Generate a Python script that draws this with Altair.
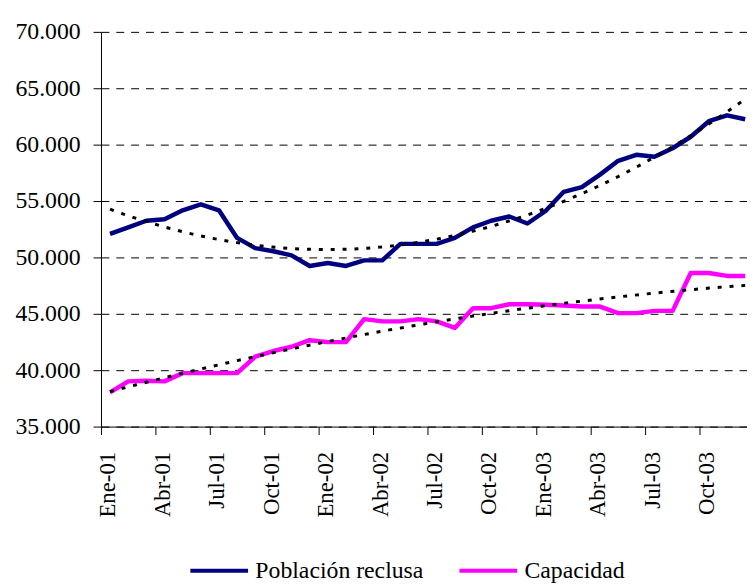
import json
import altair as alt
import pandas as pd

# Monthly categories (Ene-01 .. Dic-03)
meses = [
    "Ene-01", "Feb-01", "Mar-01", "Abr-01", "May-01", "Jun-01",
    "Jul-01", "Ago-01", "Sep-01", "Oct-01", "Nov-01", "Dic-01",
    "Ene-02", "Feb-02", "Mar-02", "Abr-02", "May-02", "Jun-02",
    "Jul-02", "Ago-02", "Sep-02", "Oct-02", "Nov-02", "Dic-02",
    "Ene-03", "Feb-03", "Mar-03", "Abr-03", "May-03", "Jun-03",
    "Jul-03", "Ago-03", "Sep-03", "Oct-03", "Nov-03", "Dic-03",
]

poblacion = [
    52080, 52660, 53250, 53390, 54180, 54710, 54180, 51730, 50820, 50550, 50180, 49240,
    49500, 49240, 49740, 49740, 51200, 51200, 51200, 51730, 52660, 53250, 53630, 53010,
    54120, 55820, 56230, 57340, 58570, 59100, 58920, 59680, 60700, 62080, 62600, 62250,
]

capacidad = [
    38040, 39010, 39060, 39010, 39740, 39740, 39740, 39740, 41200, 41700, 42080, 42660,
    42490, 42490, 44530, 44330, 44330, 44530, 44330, 43750, 45500, 45500, 45850, 45850,
    45800, 45730, 45640, 45640, 45060, 45060, 45260, 45260, 48620, 48620, 48360, 48360,
]

series = ["Población reclusa", "Capacidad"]
colores = ["#000080", "#FF00FF"]
y_ticks = [35000, 40000, 45000, 50000, 55000, 60000, 65000, 70000]
x_tick_labels = meses[::3]

rows = []
for i, mes in enumerate(meses):
    rows.append({"idx": i, "mes": mes, "serie": series[0], "valor": poblacion[i]})
    rows.append({"idx": i, "mes": mes, "serie": series[1], "valor": capacidad[i]})
df = pd.DataFrame(rows)

FONT = "Liberation Serif"

x_enc = alt.X(
    "idx:Q",
    scale=alt.Scale(domain=[-0.5, 35.1], nice=False, zero=False),
    axis=alt.Axis(
        values=[-0.5 + 3 * k for k in range(len(x_tick_labels))],
        labelExpr=json.dumps(x_tick_labels) + "[round((datum.value + 0.5) / 3)]",
        labelAngle=-90,
        labelOffset=7,
        labelPadding=17,
        tickSize=8,
        grid=False,
        title=None,
        labelFont=FONT,
        labelFontSize=23,
        labelColor="black",
        domainColor="black",
        tickColor="black",
        labelOverlap=False,
    ),
)

y_enc = alt.Y(
    "valor:Q",
    scale=alt.Scale(domain=[35000, 70000], nice=False, zero=False),
    axis=alt.Axis(
        values=y_ticks,
        labelExpr="replace(format(datum.value, ',.0f'), ',', '.')",
        tickSize=8,
        labelPadding=13,
        grid=True,
        gridDash=[8, 7],
        gridColor="black",
        gridWidth=1,
        title=None,
        labelFont=FONT,
        labelFontSize=24,
        labelColor="black",
        domainColor="black",
        tickColor="black",
    ),
)

base = alt.Chart(df)

lines = base.mark_line(strokeWidth=4.5, strokeJoin="round", clip=True).encode(
    x=x_enc,
    y=y_enc,
    color=alt.Color(
        "serie:N",
        scale=alt.Scale(domain=series, range=colores),
        legend=alt.Legend(
            title=None,
            orient="none",
            legendX=88,
            legendY=513,
            direction="horizontal",
            symbolType="stroke",
            symbolStrokeWidth=4,
            symbolSize=3400,
            labelFont=FONT,
            labelFontSize=24,
            labelColor="black",
            labelOffset=5,
            labelLimit=400,
            columnPadding=28,
        ),
    ),
)

trend = (
    base.transform_regression("idx", "valor", method="poly", order=2, groupby=["serie"])
    .mark_line(strokeWidth=3, strokeDash=[4, 8], color="black", clip=True)
    .encode(x=x_enc, y=y_enc, detail="serie:N")
)

chart = (
    alt.layer(lines, trend)
    .properties(
        width=653,
        height=399,
        autosize=alt.AutoSizeParams(type="none"),
        padding={"left": 94, "top": 21, "right": 0, "bottom": 157},
    )
    .configure_view(stroke=None)
)

chart.save("out.html", embed_options={"renderer": "svg", "actions": False})
